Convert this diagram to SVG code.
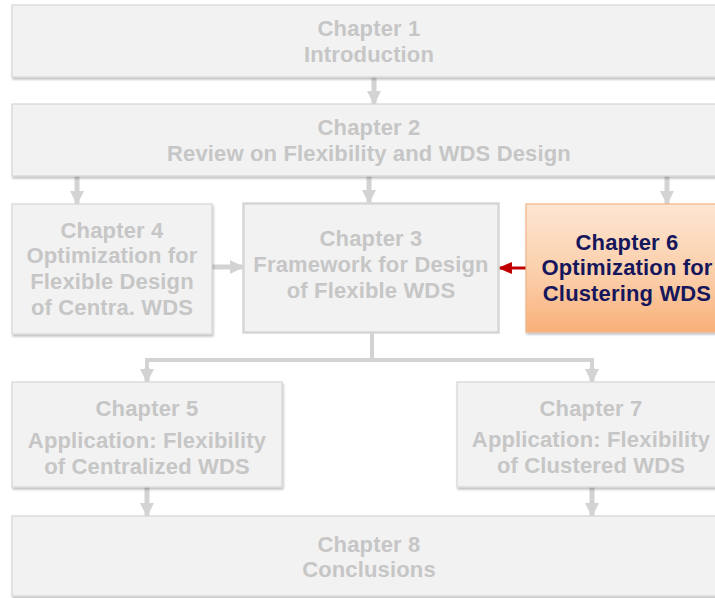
<svg xmlns="http://www.w3.org/2000/svg" width="715" height="598" viewBox="0 0 715 598">
<defs>
<style>
.box{fill:#f2f2f2;stroke:#d6d6d6;stroke-width:1.2;filter:url(#sh)}
.t{font-family:"Liberation Sans",Arial,sans-serif;font-size:22px;font-weight:bold;fill:#c6c6c6;text-anchor:middle;letter-spacing:0.15px}
.t6{font-family:"Liberation Sans",Arial,sans-serif;font-size:22px;font-weight:bold;fill:#16165c;text-anchor:middle;letter-spacing:0.15px}
.g{stroke:#d3d3d3;stroke-width:5;fill:none}
.gl{stroke:#d3d3d3;stroke-width:4;fill:none}
</style>
<filter id="sh" x="-5%" y="-5%" width="110%" height="115%">
<feDropShadow dx="1" dy="2" stdDeviation="1" flood-color="#000" flood-opacity="0.25"/>
</filter>
<linearGradient id="og" x1="0" y1="0" x2="0" y2="1">
<stop offset="0" stop-color="#fde6d2"/>
<stop offset="0.6" stop-color="#fbcca6"/>
<stop offset="1" stop-color="#f8b078"/>
</linearGradient>
<marker id="ga" markerUnits="userSpaceOnUse" markerWidth="14" markerHeight="14" refX="13" refY="7" orient="auto">
<polygon points="0,0 14,7 0,14" fill="#d3d3d3"/>
</marker>
<marker id="ra" markerUnits="userSpaceOnUse" markerWidth="14" markerHeight="12" refX="13" refY="6" orient="auto">
<polygon points="0,0 14,6 0,12" fill="#c00000"/>
</marker>
</defs>

<g id="connectors">
<line class="g" x1="374" y1="77" x2="374" y2="104" marker-end="url(#ga)"/>
<line class="g" x1="77" y1="176" x2="77" y2="204" marker-end="url(#ga)"/>
<line class="g" x1="369" y1="176" x2="369" y2="203" marker-end="url(#ga)"/>
<line class="g" x1="667" y1="176" x2="667" y2="204" marker-end="url(#ga)"/>
<line class="g" x1="212" y1="267" x2="243" y2="267" marker-end="url(#ga)"/>
<line x1="526" y1="268" x2="499" y2="268" stroke="#c00000" stroke-width="3" marker-end="url(#ra)"/>
<polyline class="gl" points="372,333 372,360"/>
<polyline class="gl" points="147,382 147,360 592,360 592,382"/>
<line class="g" x1="147" y1="368" x2="147" y2="382" marker-end="url(#ga)"/>
<line class="g" x1="592" y1="368" x2="592" y2="382" marker-end="url(#ga)"/>
<line class="g" x1="147" y1="487" x2="147" y2="516" marker-end="url(#ga)"/>
<line class="g" x1="592" y1="487" x2="592" y2="516" marker-end="url(#ga)"/>
</g>

<g id="ch1">
<rect class="box" x="12" y="5" width="714" height="72"/>
<text class="t" x="369" y="36">Chapter 1</text>
<text class="t" x="369" y="62">Introduction</text>
</g>

<g id="ch2">
<rect class="box" x="12" y="104" width="714" height="72"/>
<text class="t" x="369" y="135">Chapter 2</text>
<text class="t" x="369" y="161">Review on Flexibility and WDS Design</text>
</g>

<g id="ch4">
<rect class="box" x="12" y="204" width="200" height="130"/>
<text class="t" x="112" y="238">Chapter 4</text>
<text class="t" x="112" y="263">Optimization for</text>
<text class="t" x="112" y="289">Flexible Design</text>
<text class="t" x="112" y="315">of Centra. WDS</text>
</g>

<g id="ch3">
<rect x="243.5" y="203.5" width="255" height="129" fill="#f2f2f2" stroke="#d6d6d6" stroke-width="2.5"/>
<text class="t" x="371" y="246">Chapter 3</text>
<text class="t" x="371" y="272">Framework for Design</text>
<text class="t" x="371" y="298">of Flexible WDS</text>
</g>

<g id="ch6">
<rect x="526" y="204" width="200" height="128" fill="url(#og)" stroke="#eeb488" stroke-width="1.2" filter="url(#sh)"/>
<text class="t6" x="627" y="250">Chapter 6</text>
<text class="t6" x="627" y="275">Optimization for</text>
<text class="t6" x="627" y="301">Clustering WDS</text>
</g>

<g id="ch5">
<rect class="box" x="12" y="382" width="270" height="105"/>
<text class="t" x="147" y="416">Chapter 5</text>
<text class="t" x="147" y="448">Application: Flexibility</text>
<text class="t" x="147" y="474">of Centralized WDS</text>
</g>

<g id="ch7">
<rect class="box" x="457" y="382" width="269" height="105"/>
<text class="t" x="591" y="416">Chapter 7</text>
<text class="t" x="591" y="447">Application: Flexibility</text>
<text class="t" x="591" y="473">of Clustered WDS</text>
</g>

<g id="ch8">
<rect class="box" x="12" y="516" width="714" height="80"/>
<text class="t" x="369" y="552">Chapter 8</text>
<text class="t" x="369" y="577">Conclusions</text>
</g>
</svg>
